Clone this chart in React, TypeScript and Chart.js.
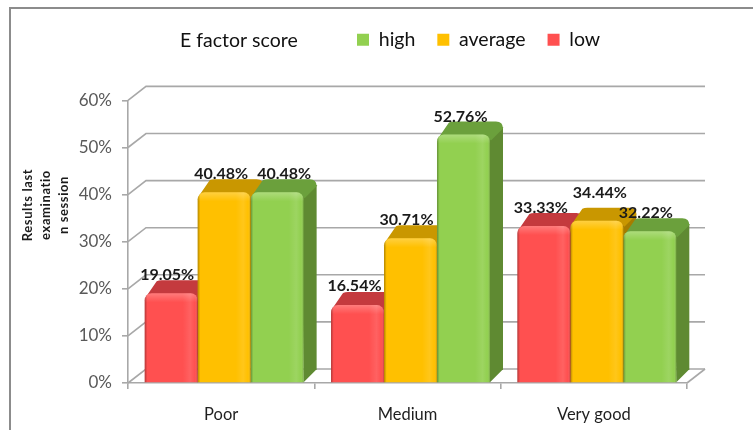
import React, { useEffect, useRef } from "react";
import { Chart, registerables } from "chart.js";

Chart.register(...registerables);

const categories = ["Poor", "Medium", "Very good"];
const seriesNames = ["low", "average", "high"];
const lowValues = [19.05, 16.54, 33.33];
const averageValues = [40.48, 30.71, 34.44];
const highValues = [40.48, 52.76, 32.22];
const chartTitle = "E factor score";
const yAxisTitleLines = ["Results last", "examinatio", "n session"];

const FONT = "Lato, Carlito, 'Open Sans', sans-serif";
const fronts = ["#ff5050", "#ffc000", "#92d050"];
const tops = ["#c43a3e", "#c99700", "#6ba03c"];
const sides = ["#a83236", "#a67c00", "#5f8a32"];
const GRID = "#a8a8a8";
const DX = 13;
const DY = 13;
const BACK_DX = 18;
const BACK_DY = 14;
const SHIFT = 3;
const RADIUS = 7;
// label offsets from bar centre / top, [dataset][category]
const labelDx = [[-4, -3, -3], [-3, -4, 3], [7, -3, -4]];
const labelDy = [[-18, -19, -18], [-18, -19, -28], [-18, -18, -18]];

const scene = {
  id: "scene3d",
  afterLayout(chart: any) {
    const t = chart.titleBlock;
    if (t) {
      t.left = 180; t.right = 320; t.top = 29; t.bottom = 53;
    }
    const l = chart.legend;
    if (l) {
      l.left = 335; l.right = 640; l.top = 8;
    }
  },
  beforeDraw(chart: any) {
    const { ctx, width, height } = chart;
    ctx.save();
    ctx.fillStyle = "#fff";
    ctx.fillRect(0, 0, width, height);
    ctx.strokeStyle = "#8c8c8c";
    ctx.lineWidth = 2;
    ctx.beginPath();
    ctx.moveTo(10, height);
    ctx.lineTo(10, 8);
    ctx.lineTo(width, 8);
    ctx.stroke();
    ctx.restore();
  },
  beforeDatasetsDraw(chart: any) {
    const { ctx, chartArea, scales } = chart;
    ctx.save();
    ctx.strokeStyle = GRID;
    ctx.lineWidth = 1.6;
    scales.y.ticks.forEach((_: any, i: number) => {
      const y = scales.y.getPixelForTick(i);
      ctx.beginPath();
      ctx.moveTo(chartArea.left, y);
      ctx.lineTo(chartArea.left + BACK_DX, y - BACK_DY);
      ctx.lineTo(chartArea.right + BACK_DX, y - BACK_DY);
      ctx.stroke();
    });
    ctx.beginPath();
    ctx.moveTo(chartArea.right, chartArea.bottom);
    ctx.lineTo(chartArea.right + BACK_DX, chartArea.bottom - BACK_DY);
    ctx.stroke();
    // depth faces of every bar, drawn before all front faces
    chart.data.datasets.forEach((_: any, d: number) => {
      chart.getDatasetMeta(d).data.forEach((el: any) => {
        const x0 = el.x - el.width / 2 + SHIFT;
        const x1 = el.x + el.width / 2 + SHIFT;
        const top = el.y;
        const base = el.base;
        ctx.fillStyle = sides[d];
        ctx.beginPath();
        ctx.moveTo(x1 - 2, top + 2);
        ctx.lineTo(x1 + DX - 4, top - DY + 2);
        ctx.lineTo(x1 + DX, top - DY + 6);
        ctx.lineTo(x1 + DX, base - DY);
        ctx.lineTo(x1, base);
        ctx.closePath();
        ctx.fill();
        ctx.fillStyle = tops[d];
        ctx.beginPath();
        ctx.moveTo(x0 + 1, top + 4);
        ctx.lineTo(x0 + DX - 1, top - DY + 1);
        ctx.quadraticCurveTo(x0 + DX + 1, top - DY, x0 + DX + 4, top - DY);
        ctx.lineTo(x1 + DX - 7, top - DY);
        ctx.quadraticCurveTo(x1 + DX, top - DY, x1 + DX, top - DY + 7);
        ctx.lineTo(x1 + 1, top + 6);
        ctx.lineTo(x1 - 3, top + 2);
        ctx.closePath();
        ctx.fill();
      });
    });
    ctx.restore();
    ctx.save();
    ctx.translate(SHIFT, 0);
  },
  afterDatasetsDraw(chart: any) {
    const { ctx } = chart;
    ctx.restore();
    ctx.save();
    chart.data.datasets.forEach((ds: any, d: number) => {
      chart.getDatasetMeta(d).data.forEach((el: any, i: number) => {
        const x0 = el.x - el.width / 2 + SHIFT;
        const w = el.width;
        const top = el.y;
        const h = el.base - el.y;
        const g = ctx.createLinearGradient(x0, 0, x0 + w, 0);
        g.addColorStop(0, "rgba(0,0,0,0.3)");
        g.addColorStop(0.05, "rgba(0,0,0,0)");
        g.addColorStop(0.72, "rgba(255,255,255,0)");
        g.addColorStop(0.86, "rgba(255,255,255,0.1)");
        g.addColorStop(0.95, "rgba(255,255,255,0)");
        g.addColorStop(1, "rgba(0,0,0,0.22)");
        ctx.fillStyle = g;
        ctx.beginPath();
        ctx.roundRect(x0, top, w, h, [RADIUS, RADIUS, 0, 0]);
        ctx.fill();
        const v = ctx.createLinearGradient(0, top, 0, top + 9);
        v.addColorStop(0, "rgba(255,255,255,0.25)");
        v.addColorStop(1, "rgba(255,255,255,0)");
        ctx.fillStyle = v;
        ctx.beginPath();
        ctx.roundRect(x0, top, w, 9, [RADIUS, RADIUS, 0, 0]);
        ctx.fill();
        // value label
        ctx.fillStyle = "#1a1a1a";
        ctx.font = `bold 16px ${FONT}`;
        ctx.textAlign = "center";
        ctx.textBaseline = "middle";
        ctx.fillText(
          ds.data[i].toFixed(2) + "%",
          el.x + SHIFT + labelDx[d][i],
          el.y + labelDy[d][i]
        );
      });
    });
    // y axis title
    ctx.translate(46, 205);
    ctx.rotate(-Math.PI / 2);
    ctx.font = `bold 13px ${FONT}`;
    ctx.letterSpacing = "0.6px";
    ctx.fillStyle = "#1a1a1a";
    ctx.textAlign = "center";
    ctx.textBaseline = "middle";
    yAxisTitleLines.forEach((line, i) => ctx.fillText(line, 0, (i - 1) * 18));
    ctx.restore();
  },
};

export default function App() {
  const ref = useRef<HTMLCanvasElement>(null);
  useEffect(() => {
    document.body.style.margin = "0";
    const chart = new Chart(ref.current!, {
      type: "bar",
      data: {
        labels: categories,
        datasets: [lowValues, averageValues, highValues].map((data, i) => ({
          label: seriesNames[i],
          data,
          backgroundColor: fronts[i],
          borderWidth: 0,
          borderRadius: { topLeft: RADIUS, topRight: RADIUS, bottomLeft: 0, bottomRight: 0 },
          borderSkipped: false,
          categoryPercentage: 0.853,
          barPercentage: 1,
        })),
      },
      options: {
        animation: false,
        responsive: false,
        layout: { padding: { top: 25.5, right: 66, bottom: 0, left: 0 } },
        plugins: {
          tooltip: { enabled: false },
          title: {
            display: true,
            text: chartTitle,
            align: "start",
            color: "#111111",
            padding: 0,
            font: { family: FONT, size: 19.5, weight: "normal" },
          },
          legend: {
            position: "top",
            align: "start",
            reverse: true,
            labels: {
              boxWidth: 12,
              boxHeight: 12,
              padding: 22,
              color: "#111111",
              font: { family: FONT, size: 19.5 },
            },
          },
        },
        scales: {
          x: {
            offset: true,
            afterFit: (s: any) => { s.height = 47; },
            grid: { drawOnChartArea: false, color: GRID, lineWidth: 1.6, tickLength: 6, offset: true },
            border: { color: GRID, width: 1.6 },
            ticks: { color: "#1f1f1f", padding: 16, maxRotation: 0, font: { family: FONT, size: 16.5 } },
          },
          y: {
            min: 0,
            max: 60,
            afterFit: (s: any) => { s.width = 128; },
            grid: { drawOnChartArea: false, color: GRID, lineWidth: 1.6, tickLength: 6 },
            border: { color: GRID, width: 1.6 },
            ticks: {
              stepSize: 10,
              color: "#595959",
              padding: 10,
              font: { family: FONT, size: 17 },
              callback: (v: any) => v + "%",
            },
          },
        },
      },
      plugins: [scene],
    } as any);
    return () => chart.destroy();
  }, []);
  return (
    <canvas
      ref={ref}
      width={753}
      height={430}
      style={{ display: "block", width: 753, height: 430, filter: "blur(0.5px)" }}
    />
  );
}
